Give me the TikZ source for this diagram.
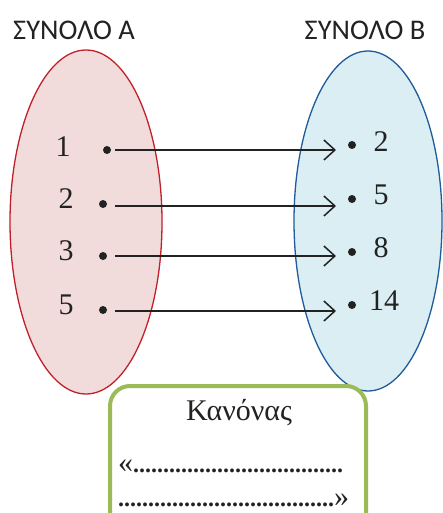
\documentclass[tikz,border=0pt]{standalone}
\usepackage{fontspec}
\setmainfont{Liberation Serif}
\newfontfamily\titlefont{Carlito}
\usetikzlibrary{arrows.meta,shapes.geometric}
\definecolor{pinkfill}{HTML}{F2DCDB}
\definecolor{redline}{HTML}{C0202A}
\definecolor{bluefill}{HTML}{DAEEF3}
\definecolor{blueline}{HTML}{1F5C99}
\definecolor{greenline}{HTML}{9BBB59}
\definecolor{ink}{HTML}{222222}
\tikzset{
  dotnode/.style={circle,fill=ink,inner sep=0pt,minimum size=8pt},
  numlabel/.style={font=\fontsize{30}{34}\selectfont,text=ink,inner sep=0pt},
  titletext/.style={font=\titlefont\fontsize{28.5}{32}\selectfont,text=ink,inner sep=0pt},
  dotline/.style={anchor=west,inner sep=0pt,text=ink,font=\fontsize{24}{28}\selectfont\bfseries},
  maparrow/.style={draw=ink,line width=1.3pt,-{Straight Barb[length=11pt,width=20pt,line width=1.5pt]}}
}
\newcommand{\bigquote}[1]{{\fontsize{30}{30}\selectfont\mdseries #1}}
\begin{document}
\begin{tikzpicture}[x=1pt,y=-1pt]
\useasboundingbox (0,0) rectangle (443,513);
% ellipses
\node[draw=redline,fill=pinkfill,line width=1.3pt,ellipse,minimum width=152pt,minimum height=344pt,inner sep=0pt] (setA) at (86,222) {};
\node[draw=blueline,fill=bluefill,line width=1.3pt,ellipse,minimum width=148pt,minimum height=340pt,inner sep=0pt] (setB) at (368,221) {};
% titles
\node[titletext] (tA) at (74,30) {ΣΥΝΟΛΟ Α};
\node[titletext] (tB) at (365,30) {ΣΥΝΟΛΟ Β};
% set A
\node[dotnode] (a1) at (107,150) {};
\node[dotnode] (a2) at (103,204) {};
\node[dotnode] (a3) at (103,256) {};
\node[dotnode] (a4) at (103,310) {};
\node[numlabel] (la1) at (63,147) {1};
\node[numlabel] (la2) at (66,199) {2};
\node[numlabel] (la3) at (66,251) {3};
\node[numlabel] (la4) at (66,305) {5};
% set B
\node[dotnode] (b1) at (352,145) {};
\node[dotnode] (b2) at (352,199) {};
\node[dotnode] (b3) at (352,252) {};
\node[dotnode] (b4) at (352,305) {};
\node[numlabel] (lb1) at (381,142) {2};
\node[numlabel] (lb2) at (381,195) {5};
\node[numlabel] (lb3) at (381,248) {8};
\node[numlabel] (lb4) at (384,301) {14};
% arrows
\coordinate (s1) at (115,150); \coordinate (e1) at (336,150);
\coordinate (s2) at (115,206); \coordinate (e2) at (336,206);
\coordinate (s3) at (115,256); \coordinate (e3) at (336,256);
\coordinate (s4) at (115,311); \coordinate (e4) at (336,311);
\draw[maparrow] (s1) -- (e1);
\draw[maparrow] (s2) -- (e2);
\draw[maparrow] (s3) -- (e3);
\draw[maparrow] (s4) -- (e4);
% rule box
\draw[greenline,line width=4pt,rounded corners=20pt,fill=white] (110,386) rectangle (366,540);
\node[numlabel] (rule) at (239,413) {Κανόνας};
\node[dotline] (r1) at (118,466) {\bigquote{«}...................................};
\node[dotline] (r2) at (118,500) {....................................\bigquote{»}};
\end{tikzpicture}
\end{document}
